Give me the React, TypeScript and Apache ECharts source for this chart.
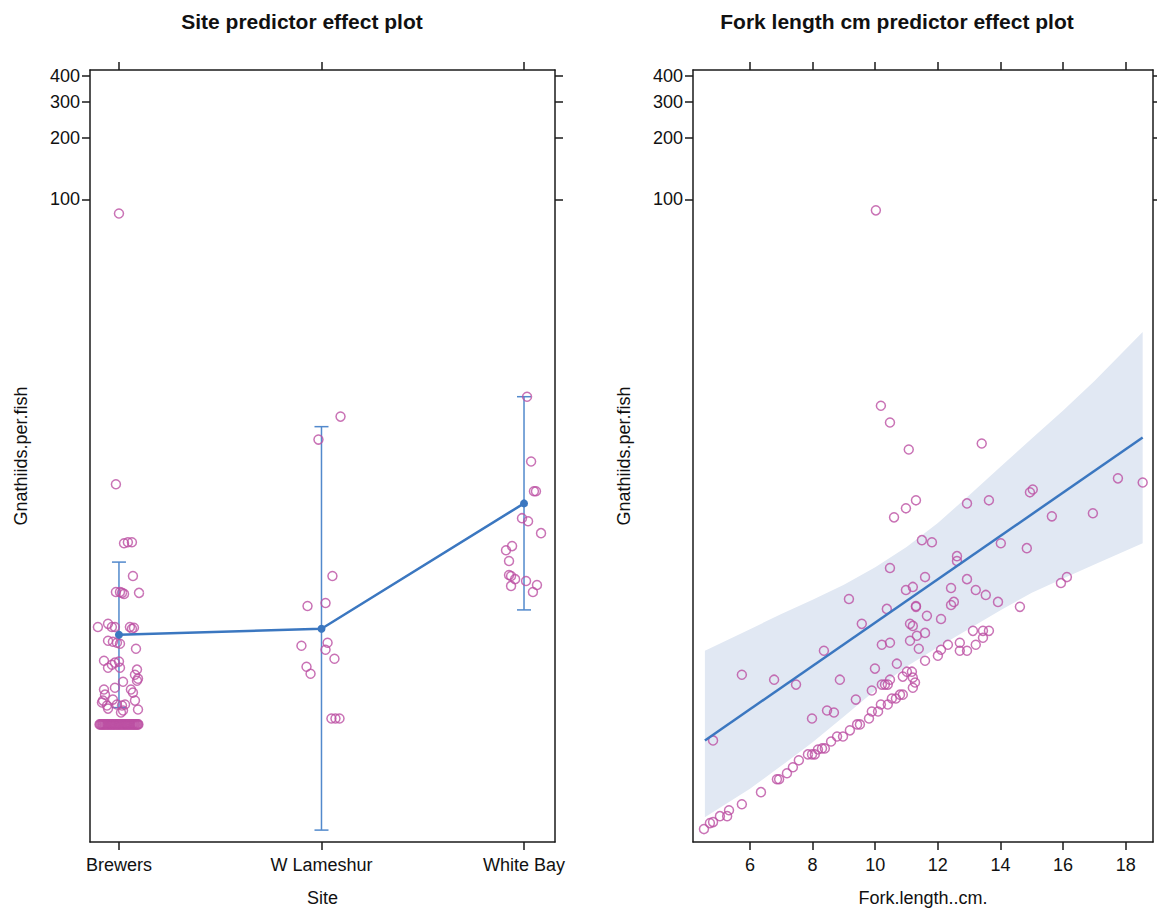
import React, { useEffect, useRef } from "react";
import * as echarts from "echarts";

// ---- Data (y values are log10 of Gnathiids per fish, the plot's vertical scale) ----
const siteCategories = ["Brewers", "W Lameshur", "White Bay"];
const yTickLabels = [100, 200, 300, 400];
const forkTicks = [6, 8, 10, 12, 14, 16, 18];

// Site effect: fitted values and 95% limits (log10 scale)
const siteFitLog = [-0.121, -0.092, 0.519];
const siteUpperLog = [0.233, 0.893, 1.039];
const siteLowerLog = [-0.476, -1.073, 0.0];

// Partial residual points, [jittered site position, log10 value]
const brewersPoints: [number, number][] = [
  [1.0, 1.932], [0.985, 0.612], [1.025, 0.325], [1.044, 0.33], [1.064, 0.33],
  [1.069, 0.165], [0.985, 0.087], [1.005, 0.087], [1.015, 0.083], [1.025, 0.078],
  [1.099, 0.083], [0.896, -0.083], [0.946, -0.068], [0.965, -0.083], [0.98, -0.083],
  [1.054, -0.083], [1.064, -0.092], [1.074, -0.087], [0.946, -0.15], [0.97, -0.155],
  [0.99, -0.16], [1.005, -0.165], [1.084, -0.189], [0.926, -0.248], [0.946, -0.282],
  [0.965, -0.267], [0.98, -0.257], [1.0, -0.252], [1.005, -0.282], [1.089, -0.291],
  [1.079, -0.316], [1.094, -0.335], [1.089, -0.345], [1.02, -0.35], [0.926, -0.388],
  [0.98, -0.379], [1.059, -0.388], [1.069, -0.403], [0.931, -0.413], [0.921, -0.442],
  [0.916, -0.451], [0.941, -0.466], [0.946, -0.481], [0.97, -0.437], [0.99, -0.461],
  [1.015, -0.466], [1.03, -0.461], [1.02, -0.49], [1.01, -0.5], [1.079, -0.442],
  [1.094, -0.485],
  // zero-count fish, heavily overlapping along the bottom row
  [0.904, -0.558], [0.908, -0.558], [0.913, -0.558], [0.918, -0.558], [0.922, -0.558],
  [0.927, -0.558], [0.931, -0.558], [0.936, -0.558], [0.941, -0.558], [0.945, -0.558],
  [0.95, -0.558], [0.955, -0.558], [0.959, -0.558], [0.964, -0.558], [0.968, -0.558],
  [0.973, -0.558], [0.978, -0.558], [0.982, -0.558], [0.987, -0.558], [0.992, -0.558],
  [0.996, -0.558], [1.001, -0.558], [1.005, -0.558], [1.01, -0.558], [1.015, -0.558],
  [1.019, -0.558], [1.024, -0.558], [1.029, -0.558], [1.033, -0.558], [1.038, -0.558],
  [1.042, -0.558], [1.047, -0.558], [1.052, -0.558], [1.056, -0.558], [1.061, -0.558],
  [1.066, -0.558], [1.07, -0.558], [1.075, -0.558], [1.079, -0.558], [1.084, -0.558],
  [1.089, -0.558], [1.093, -0.558], [1.096, -0.558],
];
const lameshurPoints: [number, number][] = [
  [2.094, 0.942], [1.985, 0.83], [2.054, 0.165], [1.931, 0.019], [2.02, 0.034],
  [1.901, -0.175], [2.03, -0.16], [2.02, -0.194], [2.064, -0.238], [1.926, -0.277],
  [1.946, -0.311], [2.049, -0.529], [2.069, -0.529], [2.089, -0.529],
];
const whiteBayPoints: [number, number][] = [
  [3.015, 1.039], [3.035, 0.723], [3.049, 0.578], [3.059, 0.578], [2.99, 0.447],
  [3.02, 0.432], [3.084, 0.374], [2.911, 0.291], [2.941, 0.311], [2.926, 0.238],
  [2.926, 0.17], [2.936, 0.165], [2.956, 0.15], [2.936, 0.117], [3.01, 0.141],
  [3.064, 0.121], [3.044, 0.087],
];

// Fork length effect: fitted line and 95% band (log10 scale)
const forkGrid = [4.56, 6, 7, 8, 9, 10, 11, 12, 13, 14, 15, 16, 17, 18.54];
const forkUpperLog = [-0.199, -0.094, -0.02, 0.05, 0.123, 0.208, 0.306, 0.424, 0.559, 0.698, 0.835, 0.972, 1.116, 1.354];
const forkLowerLog = [-1.01, -0.871, -0.76, -0.645, -0.52, -0.391, -0.276, -0.182, -0.092, -0.002, 0.084, 0.153, 0.221, 0.325];
const forkLineX = [4.56, 18.54];
const forkLineLog = [-0.636, 0.84];

// Partial residual points, [fork length cm, log10 value]
const forkPoints: [number, number][] = [
  [4.53, -1.068], [4.72, -1.039], [4.82, -1.034], [5.04, -1.005], [5.27, -1.005],
  [5.33, -0.976], [5.74, -0.947], [6.35, -0.888], [6.86, -0.825], [6.93, -0.825],
  [7.18, -0.796], [7.37, -0.767], [7.56, -0.733], [7.85, -0.704], [7.98, -0.704],
  [8.07, -0.704], [8.17, -0.68], [8.3, -0.675], [8.39, -0.675], [8.59, -0.641],
  [8.78, -0.617], [8.97, -0.617], [9.19, -0.587], [9.42, -0.558], [9.51, -0.558],
  [9.8, -0.529], [9.89, -0.495], [10.09, -0.495], [10.18, -0.461], [10.4, -0.461],
  [10.53, -0.432], [10.66, -0.432], [10.79, -0.413], [10.88, -0.413], [9.89, -0.393],
  [10.21, -0.364], [10.31, -0.364], [10.4, -0.364], [10.47, -0.34], [7.98, -0.529],
  [8.46, -0.49], [8.68, -0.5], [9.38, -0.437], [8.87, -0.34], [7.47, -0.364],
  [6.77, -0.34], [5.74, -0.316], [4.82, -0.636], [9.99, -0.286], [10.69, -0.262],
  [10.88, -0.325], [11.01, -0.301], [11.17, -0.301], [11.2, -0.33], [11.27, -0.354],
  [11.2, -0.379], [11.39, -0.189], [11.11, -0.15], [10.47, -0.16], [10.21, -0.17],
  [8.36, -0.199], [11.59, -0.112], [11.11, -0.068], [11.2, -0.078], [11.33, -0.126],
  [9.57, -0.068], [11.65, -0.029], [10.37, 0.005], [11.3, 0.019], [9.16, 0.053],
  [10.98, 0.097], [11.2, 0.112], [11.59, 0.16], [10.47, 0.204], [10.18, 0.995],
  [10.47, 0.913], [11.07, 0.782], [13.4, 0.811], [17.75, 0.641], [18.54, 0.621],
  [14.94, 0.573], [15.03, 0.587], [12.93, 0.519], [13.63, 0.534], [11.3, 0.534],
  [10.98, 0.495], [10.6, 0.451], [15.64, 0.456], [16.95, 0.471], [11.49, 0.34],
  [11.81, 0.33], [14.01, 0.325], [12.61, 0.262], [12.61, 0.238], [14.84, 0.301],
  [12.93, 0.15], [16.12, 0.16], [15.93, 0.131], [12.42, 0.107], [13.21, 0.097],
  [13.53, 0.073], [11.3, 0.015], [12.42, 0.024], [12.51, 0.039], [13.92, 0.039],
  [14.62, 0.015], [12.1, -0.044], [13.12, -0.102], [13.44, -0.102], [13.63, -0.102],
  [13.44, -0.136], [12.32, -0.17], [12.1, -0.194], [12.0, -0.223], [12.7, -0.16],
  [12.7, -0.199], [12.93, -0.199], [13.21, -0.17], [11.59, -0.248], [10.02, 1.947],
];

// ---- Styling ----
const FONT = "'Liberation Sans', Arial, Helvetica, sans-serif";
const POINT_COLOR = "#BC4FA2";
const LINE_COLOR = "#3B77C0";
const BAR_COLOR = "#5289CC";
const BAND_COLOR = "#E1E8F3";
const AXIS_COLOR = "#1a1a1a";
const TEXT_COLOR = "#111";
const TICK_FONT = 18;
const NAME_FONT = 18;
const TITLE_FONT = 21;
const Y_MIN = -1.131;
const Y_MAX = 2.631;

const yTickValues = yTickLabels.map((v) => Math.log10(v));

function yAxisDef(gridIndex: number, position: "left" | "right", withLabels: boolean) {
  return {
    type: "value",
    gridIndex,
    position,
    min: Y_MIN,
    max: Y_MAX,
    splitLine: { show: false },
    axisLine: { show: true, onZero: false, lineStyle: { color: AXIS_COLOR, width: 1.5 } },
    axisTick: {
      show: true,
      inside: false,
      length: 8,
      customValues: yTickValues,
      lineStyle: { color: AXIS_COLOR, width: 1.5 },
    },
    axisLabel: {
      show: withLabels,
      customValues: yTickValues,
      formatter: (v: number) => String(Math.round(Math.pow(10, v))),
      fontSize: TICK_FONT,
      color: TEXT_COLOR,
      fontFamily: FONT,
      margin: 10,
    },
    name: withLabels ? "Gnathiids.per.fish" : "",
    nameLocation: "middle",
    nameGap: 60,
    nameRotate: 90,
    nameTextStyle: { fontSize: NAME_FONT, color: TEXT_COLOR, fontFamily: FONT },
  };
}

function xAxisDef(
  gridIndex: number,
  position: "top" | "bottom",
  min: number,
  max: number,
  ticks: number[],
  withLabels: boolean,
  name: string,
  formatter: (v: number) => string
) {
  return {
    type: "value",
    gridIndex,
    position,
    min,
    max,
    splitLine: { show: false },
    axisLine: { show: true, onZero: false, lineStyle: { color: AXIS_COLOR, width: 1.5 } },
    axisTick: {
      show: true,
      inside: false,
      length: 8,
      customValues: ticks,
      lineStyle: { color: AXIS_COLOR, width: 1.5 },
    },
    axisLabel: {
      show: withLabels,
      customValues: ticks,
      formatter,
      fontSize: TICK_FONT,
      color: TEXT_COLOR,
      fontFamily: FONT,
      margin: 14,
    },
    name: withLabels ? name : "",
    nameLocation: "middle",
    nameGap: 47,
    nameTextStyle: { fontSize: NAME_FONT, color: TEXT_COLOR, fontFamily: FONT },
  };
}

function pointSeries(data: [number, number][], xAxisIndex: number, yAxisIndex: number) {
  return {
    type: "scatter",
    xAxisIndex,
    yAxisIndex,
    data,
    symbol: "circle",
    symbolSize: 9,
    itemStyle: { color: "transparent", borderColor: POINT_COLOR, borderWidth: 1.5 },
    z: 3,
  };
}

export default function App() {
  const ref = useRef<HTMLDivElement>(null);

  useEffect(() => {
    if (!ref.current) return;
    const chart = echarts.init(ref.current, null, { renderer: "svg" });

    const siteTickValues = siteCategories.map((_, i) => i + 1);
    const siteFormatter = (v: number) => siteCategories[Math.round(v) - 1] ?? "";
    const numFormatter = (v: number) => String(v);

    const option: any = {
      animation: false,
      backgroundColor: "#ffffff",
      title: [
        {
          text: "Site predictor effect plot",
          left: 297,
          top: 6,
          textAlign: "center",
          textStyle: { fontSize: TITLE_FONT, fontWeight: "bold", color: TEXT_COLOR, fontFamily: FONT },
        },
        {
          text: "Fork length cm predictor effect plot",
          left: 892,
          top: 6,
          textAlign: "center",
          textStyle: { fontSize: TITLE_FONT, fontWeight: "bold", color: TEXT_COLOR, fontFamily: FONT },
        },
      ],
      grid: [
        { left: 90, top: 70, width: 465, height: 775, containLabel: false },
        { left: 693, top: 70, width: 460, height: 775, containLabel: false },
      ],
      xAxis: [
        xAxisDef(0, "bottom", 0.857, 3.153, siteTickValues, true, "Site", siteFormatter),
        xAxisDef(0, "top", 0.857, 3.153, siteTickValues, false, "", siteFormatter),
        xAxisDef(1, "bottom", 4.18, 18.87, forkTicks, true, "Fork.length..cm.", numFormatter),
        xAxisDef(1, "top", 4.18, 18.87, forkTicks, false, "", numFormatter),
      ],
      yAxis: [
        yAxisDef(0, "left", true),
        yAxisDef(0, "right", false),
        yAxisDef(1, "left", true),
        yAxisDef(1, "right", false),
      ],
      series: [
        // Left panel: error bars
        {
          type: "custom",
          xAxisIndex: 0,
          yAxisIndex: 0,
          data: siteCategories.map((_, i) => [i + 1, siteLowerLog[i], siteUpperLog[i]]),
          encode: { x: 0, y: [1, 2] },
          renderItem: (params: any, api: any) => {
            const x = api.value(0);
            const lo = api.coord([x, api.value(1)]);
            const hi = api.coord([x, api.value(2)]);
            const cap = 7;
            const style = { stroke: BAR_COLOR, lineWidth: 1.5 };
            return {
              type: "group",
              children: [
                { type: "line", shape: { x1: lo[0], y1: lo[1], x2: hi[0], y2: hi[1] }, style },
                { type: "line", shape: { x1: lo[0] - cap, y1: lo[1], x2: lo[0] + cap, y2: lo[1] }, style },
                { type: "line", shape: { x1: hi[0] - cap, y1: hi[1], x2: hi[0] + cap, y2: hi[1] }, style },
              ],
            };
          },
          z: 2,
        },
        pointSeries(brewersPoints, 0, 0),
        pointSeries(lameshurPoints, 0, 0),
        pointSeries(whiteBayPoints, 0, 0),
        {
          type: "line",
          xAxisIndex: 0,
          yAxisIndex: 0,
          data: siteCategories.map((_, i) => [i + 1, siteFitLog[i]]),
          symbol: "circle",
          symbolSize: 8,
          itemStyle: { color: LINE_COLOR },
          lineStyle: { color: LINE_COLOR, width: 2.5 },
          z: 4,
        },
        // Right panel: confidence band
        {
          type: "custom",
          xAxisIndex: 2,
          yAxisIndex: 2,
          data: forkGrid.map((x, i) => [x, forkLowerLog[i], forkUpperLog[i]]),
          encode: { x: 0, y: [1, 2] },
          renderItem: (params: any, api: any) => {
            if (params.dataIndex !== 0) return null;
            const pts: number[][] = [];
            forkGrid.forEach((x, i) => pts.push(api.coord([x, forkUpperLog[i]])));
            for (let i = forkGrid.length - 1; i >= 0; i--) {
              pts.push(api.coord([forkGrid[i], forkLowerLog[i]]));
            }
            return {
              type: "polygon",
              shape: { points: pts },
              style: { fill: BAND_COLOR, stroke: "none" },
            };
          },
          z: 1,
        },
        pointSeries(forkPoints, 2, 2),
        {
          type: "line",
          xAxisIndex: 2,
          yAxisIndex: 2,
          data: forkLineX.map((x, i) => [x, forkLineLog[i]]),
          symbol: "none",
          lineStyle: { color: LINE_COLOR, width: 2.5 },
          z: 4,
        },
      ],
    };

    chart.setOption(option);
    return () => chart.dispose();
  }, []);

  return (
    <div
      ref={ref}
      style={{ position: "fixed", left: 0, top: 0, width: 1157, height: 912, background: "#fff" }}
    />
  );
}
